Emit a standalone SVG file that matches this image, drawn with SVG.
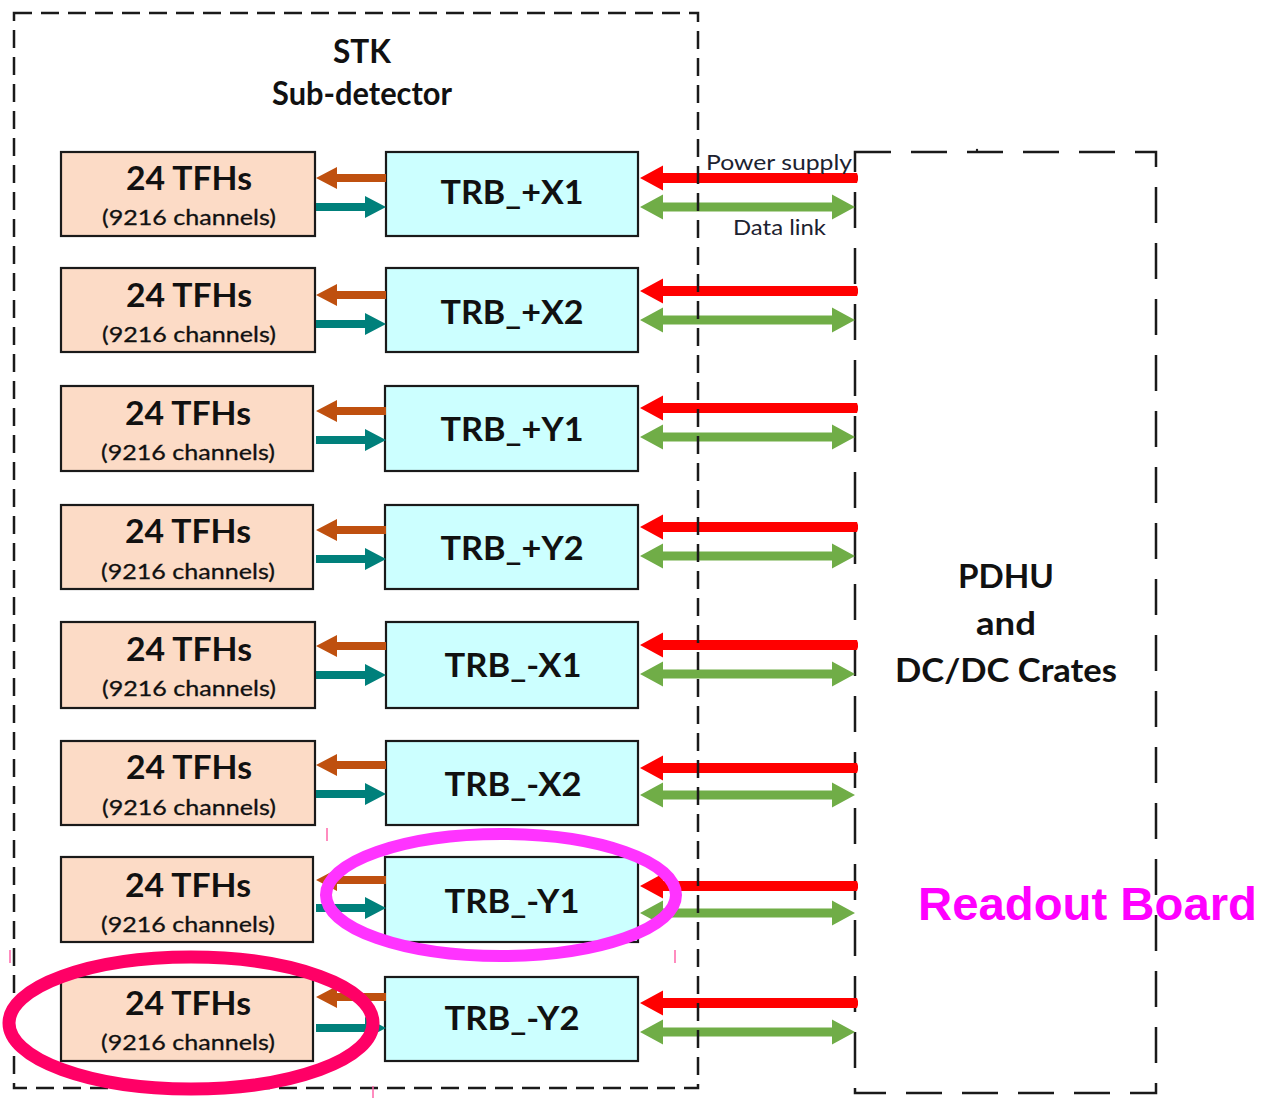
<svg xmlns="http://www.w3.org/2000/svg" xmlns:xlink="http://www.w3.org/1999/xlink" width="1261" height="1098" viewBox="0 0 1261 1098">
<style>
  .tfh { fill: #FCDBC6; stroke: #1a1a1a; stroke-width: 2.2; }
  .trb { fill: #CCFFFF; stroke: #1a1a1a; stroke-width: 2.2; }
  .big { font-family: Lato, "Liberation Sans", sans-serif; font-weight: bold; font-size: 32px; fill: #111111; text-anchor: middle; }
  .small { font-family: Lato, "Liberation Sans", sans-serif; font-size: 22px; fill: #111111; text-anchor: middle; stroke: #111111; stroke-width: 0.3; }
  .lbl { font-family: Lato, "Liberation Sans", sans-serif; font-size: 21px; fill: #1c2230; }
  .dash1 { fill: none; stroke: #1a1a1a; stroke-width: 2.5; stroke-dasharray: 18 9; }
  .dash2 { fill: none; stroke: #1a1a1a; stroke-width: 2.5; stroke-dasharray: 36 20; }
  .pw { fill: #FF0000; }
  .dl { fill: #70AD47; }
  .cmd { fill: #BF500F; }
  .dat { fill: #00807B; }
  .tick { stroke: #FF66AA; stroke-width: 1.5; }
</style>
<defs>
  <polygon id="pw" class="pw" points="640,0 663,-12.5 663,-5 857,-5 858,-2 858,2 857,5 663,5 663,12.5"/>
  <polygon id="dl" class="dl" points="640,0 663,-12.5 663,-4.5 832,-4.5 832,-12.5 855,0 832,12.5 832,4.5 663,4.5 663,12.5"/>
  <polygon id="cmd" class="cmd" points="316,0 337,-11 337,-4 386,-4 386,4 337,4 337,11"/>
  <polygon id="dat" class="dat" points="386,0 365,-11 365,-4 316,-4 316,4 365,4 365,11"/>
</defs>
<rect width="1261" height="1098" fill="#ffffff"/>

<g id="stk">
  <text x="362" y="63" class="big" font-size="29" textLength="58" lengthAdjust="spacingAndGlyphs">STK</text>
  <text x="362" y="105" class="big" font-size="24" textLength="180" lengthAdjust="spacingAndGlyphs">Sub-detector</text>
</g>

<g id="pdhu">
  <rect x="855" y="152" width="301" height="941" class="dash2"/>
  <text x="1006" y="588" class="big" font-size="34" textLength="96" lengthAdjust="spacingAndGlyphs">PDHU</text>
  <text x="1006" y="635" class="big" font-size="34" textLength="60" lengthAdjust="spacingAndGlyphs">and</text>
  <text x="1006" y="682" class="big" font-size="34" textLength="222" lengthAdjust="spacingAndGlyphs">DC/DC Crates</text>
  <circle cx="977" cy="150" r="1.2" fill="#1a1a1a"/>
</g>

<g id="row1">
  <rect x="61" y="152" width="254" height="84" class="tfh"/>
  <text x="189" y="190" class="big" textLength="126" lengthAdjust="spacingAndGlyphs">24 TFHs</text>
  <text x="189" y="225" class="small" textLength="174" lengthAdjust="spacingAndGlyphs">(9216 channels)</text>
  <rect x="386" y="152" width="252" height="84" class="trb"/>
  <text x="512" y="204" class="big" textLength="143" lengthAdjust="spacingAndGlyphs">TRB_+X1</text>
</g>
<g id="row2">
  <rect x="61" y="268" width="254" height="84" class="tfh"/>
  <text x="189" y="307" class="big" textLength="126" lengthAdjust="spacingAndGlyphs">24 TFHs</text>
  <text x="189" y="342" class="small" textLength="174" lengthAdjust="spacingAndGlyphs">(9216 channels)</text>
  <rect x="386" y="268" width="252" height="84" class="trb"/>
  <text x="512" y="324" class="big" textLength="143" lengthAdjust="spacingAndGlyphs">TRB_+X2</text>
</g>
<g id="row3">
  <rect x="61" y="386" width="252" height="85" class="tfh"/>
  <text x="188" y="425" class="big" textLength="126" lengthAdjust="spacingAndGlyphs">24 TFHs</text>
  <text x="188" y="460" class="small" textLength="174" lengthAdjust="spacingAndGlyphs">(9216 channels)</text>
  <rect x="385" y="386" width="253" height="85" class="trb"/>
  <text x="512" y="441" class="big" textLength="143" lengthAdjust="spacingAndGlyphs">TRB_+Y1</text>
</g>
<g id="row4">
  <rect x="61" y="505" width="252" height="84" class="tfh"/>
  <text x="188" y="543" class="big" textLength="126" lengthAdjust="spacingAndGlyphs">24 TFHs</text>
  <text x="188" y="579" class="small" textLength="174" lengthAdjust="spacingAndGlyphs">(9216 channels)</text>
  <rect x="385" y="505" width="253" height="84" class="trb"/>
  <text x="512" y="560" class="big" textLength="143" lengthAdjust="spacingAndGlyphs">TRB_+Y2</text>
</g>
<g id="row5">
  <rect x="61" y="622" width="254" height="86" class="tfh"/>
  <text x="189" y="661" class="big" textLength="126" lengthAdjust="spacingAndGlyphs">24 TFHs</text>
  <text x="189" y="696" class="small" textLength="174" lengthAdjust="spacingAndGlyphs">(9216 channels)</text>
  <rect x="386" y="622" width="252" height="86" class="trb"/>
  <text x="513" y="677" class="big" textLength="137" lengthAdjust="spacingAndGlyphs">TRB_-X1</text>
</g>
<g id="row6">
  <rect x="61" y="741" width="254" height="84" class="tfh"/>
  <text x="189" y="779" class="big" textLength="126" lengthAdjust="spacingAndGlyphs">24 TFHs</text>
  <text x="189" y="815" class="small" textLength="174" lengthAdjust="spacingAndGlyphs">(9216 channels)</text>
  <rect x="386" y="741" width="252" height="84" class="trb"/>
  <text x="513" y="796" class="big" textLength="137" lengthAdjust="spacingAndGlyphs">TRB_-X2</text>
</g>
<g id="row7">
  <rect x="61" y="857" width="252" height="85" class="tfh"/>
  <text x="188" y="897" class="big" textLength="126" lengthAdjust="spacingAndGlyphs">24 TFHs</text>
  <text x="188" y="932" class="small" textLength="174" lengthAdjust="spacingAndGlyphs">(9216 channels)</text>
  <rect x="385" y="857" width="253" height="85" class="trb"/>
  <text x="512" y="913" class="big" textLength="135" lengthAdjust="spacingAndGlyphs">TRB_-Y1</text>
</g>
<g id="row8">
  <rect x="61" y="977" width="252" height="84" class="tfh"/>
  <text x="188" y="1015" class="big" textLength="126" lengthAdjust="spacingAndGlyphs">24 TFHs</text>
  <text x="188" y="1050" class="small" textLength="174" lengthAdjust="spacingAndGlyphs">(9216 channels)</text>
  <rect x="385" y="977" width="253" height="84" class="trb"/>
  <text x="512" y="1030" class="big" textLength="135" lengthAdjust="spacingAndGlyphs">TRB_-Y2</text>
</g>

<g id="connectors">
  <use href="#pw" xlink:href="#pw" y="178"/>
  <use href="#dl" xlink:href="#dl" y="207"/>
  <use href="#cmd" xlink:href="#cmd" y="178"/>
  <use href="#dat" xlink:href="#dat" y="207"/>

  <use href="#pw" xlink:href="#pw" y="291"/>
  <use href="#dl" xlink:href="#dl" y="320"/>
  <use href="#cmd" xlink:href="#cmd" y="295"/>
  <use href="#dat" xlink:href="#dat" y="324"/>

  <use href="#pw" xlink:href="#pw" y="408"/>
  <use href="#dl" xlink:href="#dl" y="437"/>
  <use href="#cmd" xlink:href="#cmd" y="411"/>
  <use href="#dat" xlink:href="#dat" y="440"/>

  <use href="#pw" xlink:href="#pw" y="527"/>
  <use href="#dl" xlink:href="#dl" y="556"/>
  <use href="#cmd" xlink:href="#cmd" y="530"/>
  <use href="#dat" xlink:href="#dat" y="559"/>

  <use href="#pw" xlink:href="#pw" y="645"/>
  <use href="#dl" xlink:href="#dl" y="674"/>
  <use href="#cmd" xlink:href="#cmd" y="646"/>
  <use href="#dat" xlink:href="#dat" y="675"/>

  <use href="#pw" xlink:href="#pw" y="768"/>
  <use href="#dl" xlink:href="#dl" y="795"/>
  <use href="#cmd" xlink:href="#cmd" y="765"/>
  <use href="#dat" xlink:href="#dat" y="794"/>

  <use href="#pw" xlink:href="#pw" y="886"/>
  <use href="#dl" xlink:href="#dl" y="913"/>
  <use href="#cmd" xlink:href="#cmd" y="880"/>
  <use href="#dat" xlink:href="#dat" y="908"/>

  <use href="#pw" xlink:href="#pw" y="1003"/>
  <use href="#dl" xlink:href="#dl" y="1032"/>
  <use href="#cmd" xlink:href="#cmd" y="997"/>
  <use href="#dat" xlink:href="#dat" y="1028"/>

  <text x="706" y="170" class="lbl" textLength="146" lengthAdjust="spacingAndGlyphs">Power supply</text>
  <text x="733" y="235" class="lbl" textLength="93" lengthAdjust="spacingAndGlyphs">Data link</text>
</g>

<g id="stk-outline">
  <rect x="14" y="13" width="684" height="1075" class="dash1"/>
</g>

<g id="highlights">
  <ellipse cx="501" cy="895" rx="175" ry="61" fill="none" stroke="#FF33FF" stroke-width="12"/>
  <ellipse cx="191" cy="1023" rx="182" ry="66" fill="none" stroke="#FF0066" stroke-width="13"/>
  <line x1="327" y1="828" x2="327" y2="841" class="tick"/>
  <line x1="675" y1="950" x2="675" y2="963" class="tick"/>
  <line x1="10" y1="950" x2="10" y2="963" class="tick"/>
  <line x1="373" y1="1086" x2="373" y2="1098" class="tick"/>
  <text x="918" y="920" font-family="'Liberation Sans', Arial, sans-serif" font-weight="bold" font-size="46" fill="#FF00FF" textLength="339" lengthAdjust="spacingAndGlyphs">Readout Board</text>
</g>
</svg>
